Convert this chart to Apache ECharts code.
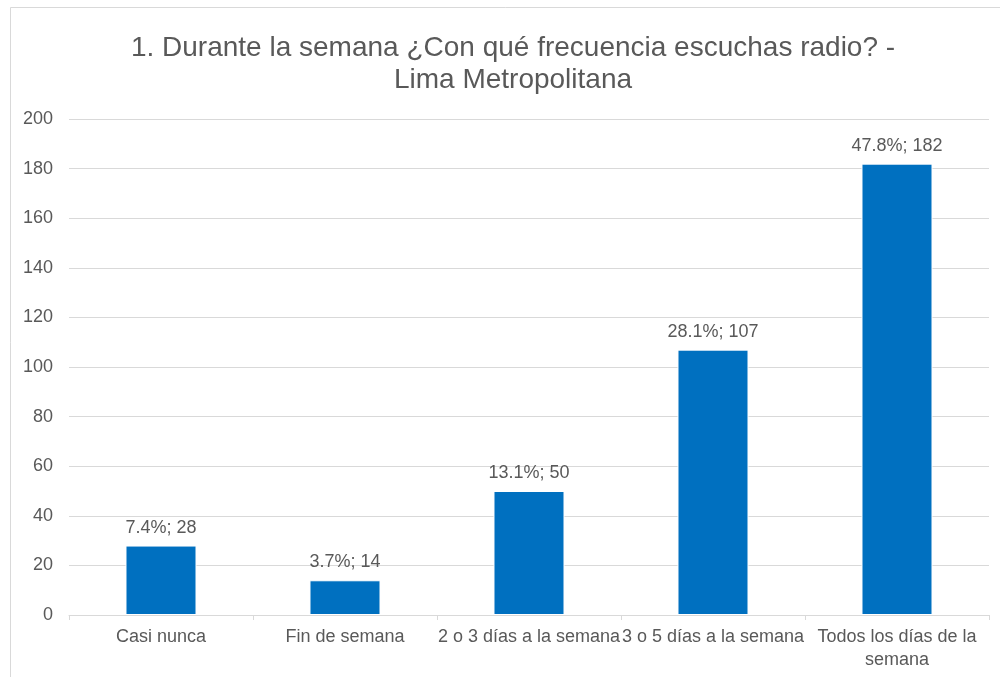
<!DOCTYPE html>
<html>
<head>
<meta charset="utf-8">
<script src="https://cdn.jsdelivr.net/npm/echarts@6/dist/echarts.min.js"></script>
<style>
  html, body { margin: 0; padding: 0; background: #fff; }
  #chart { width: 1000px; height: 677px; }
</style>
</head>
<body>
<div id="chart"></div>
<script>
// datos de la encuesta
var categories = ['Casi nunca', 'Fin de semana', '2 o 3 días a la semana', '3 o 5 días a la semana', 'Todos los días de la semana']
var counts = [28, 14, 50, 107, 182]
var percents = ['7.4%', '3.7%', '13.1%', '28.1%', '47.8%']
var yTicks = { min: 0, max: 200, interval: 20 }

var textColor = '#595959'
var font = 'Liberation Sans, Arial, sans-serif'

var chart = echarts.init(document.getElementById('chart'), null, { renderer: 'canvas' })

chart.setOption({
  backgroundColor: '#fff',
  animation: false,
  graphic: [
    {
      type: 'rect',
      shape: { x: 10.5, y: 7.5, width: 1000, height: 700 },
      style: { fill: 'none', stroke: '#d9d9d9', lineWidth: 1 },
      silent: true
    }
  ],
  title: {
    text: '1. Durante la semana ¿Con qué frecuencia escuchas radio? -\nLima Metropolitana',
    left: 508,
    top: 27,
    textAlign: 'center',
    textStyle: {
      color: textColor,
      fontFamily: font,
      fontSize: 28,
      fontWeight: 'normal',
      lineHeight: 32
    }
  },
  grid: {
    left: 69,
    right: 11,
    top: 119,
    bottom: 62,
    containLabel: false
  },
  xAxis: {
    type: 'category',
    data: categories,
    axisLine: { lineStyle: { color: '#d9d9d9' } },
    axisTick: { show: true, length: 5, lineStyle: { color: '#d9d9d9' } },
    axisLabel: {
      color: textColor,
      fontFamily: font,
      fontSize: 18,
      margin: 11,
      lineHeight: 23,
      interval: 0,
      // solo la etiqueta más larga pasa a dos líneas, como en Excel
      formatter: function (name) {
        if (name.length <= 24) return name
        var cut = name.lastIndexOf(' ')
        return name.slice(0, cut) + '\n' + name.slice(cut + 1)
      }
    }
  },
  yAxis: {
    type: 'value',
    min: yTicks.min,
    max: yTicks.max,
    interval: yTicks.interval,
    axisLine: { show: false },
    axisTick: { show: false },
    splitLine: { lineStyle: { color: '#d9d9d9', width: 1 } },
    axisLabel: {
      color: textColor,
      fontFamily: font,
      fontSize: 18,
      margin: 16
    }
  },
  series: [
    {
      type: 'bar',
      data: counts,
      barWidth: '38.6%',
      itemStyle: {
        color: '#0070c0',
        borderColor: '#ffffff',
        borderWidth: 1
      },
      label: {
        show: true,
        position: 'top',
        distance: 9,
        color: textColor,
        fontFamily: font,
        fontSize: 18,
        formatter: function (p) {
          return percents[p.dataIndex] + '; ' + p.value
        }
      }
    }
  ]
})
</script>
</body>
</html>
